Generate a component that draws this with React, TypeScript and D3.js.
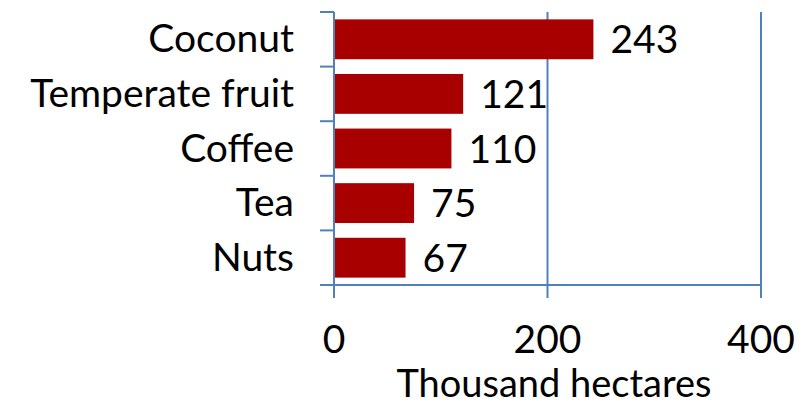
import React from "react";
import * as d3 from "d3";

const categories = ["Coconut", "Temperate fruit", "Coffee", "Tea", "Nuts"];
const values = [243, 121, 110, 75, 67];
const xTicks = [0, 200, 400];
const xTitle = "Thousand hectares";

export default function App() {
  const W = 812, H = 404;
  const left = 334, right = 761, top = 12, bottom = 285;
  const x = d3.scaleLinear().domain([0, 400]).range([left, right]);
  const y = d3.scaleBand().domain(categories).range([top, bottom]).paddingInner(0.27).paddingOuter(0.135);
  const yb = d3.scaleBand().domain(categories).range([top, bottom]);
  const axisColor = "#4F81BD";
  const font = "Lato, Carlito, 'Open Sans', sans-serif";
  const fs = 39;
  return (
    <svg width={W} height={H} style={{ position: "absolute", left: 0, top: 0 }} fontFamily={font}>
      {xTicks.map((t) => (
        <line key={"g" + t} x1={x(t)} x2={x(t)} y1={top} y2={bottom + 13} stroke={axisColor} strokeWidth={2} />
      ))}
      <line x1={left} x2={right} y1={bottom} y2={bottom} stroke={axisColor} strokeWidth={2} />
      {[...categories.map((c) => yb(c) as number), bottom].map((v, i) => (
        <line key={"t" + i} x1={left - 14} x2={left} y1={v} y2={v} stroke={axisColor} strokeWidth={2} />
      ))}
      {categories.map((c, i) => (
        <g key={c}>
          <rect x={x(0) + 1} y={y(c)} width={x(values[i]) - x(0) - 1} height={y.bandwidth()} fill="#A80000" />
          <text x={x(values[i]) + 17} y={(y(c) as number) + y.bandwidth() / 2 + 14} fontSize={fs} fill="#000">
            {values[i]}
          </text>
          <text x={294} y={(yb(c) as number) + yb.bandwidth() / 2 + 13} fontSize={fs} textAnchor="end" fill="#000">
            {c}
          </text>
        </g>
      ))}
      {xTicks.map((t) => (
        <text key={"l" + t} x={x(t)} y={353} fontSize={fs} textAnchor="middle" fill="#000">
          {t}
        </text>
      ))}
      <text x={554} y={397} fontSize={38} textAnchor="middle" fill="#000">
        {xTitle}
      </text>
    </svg>
  );
}
